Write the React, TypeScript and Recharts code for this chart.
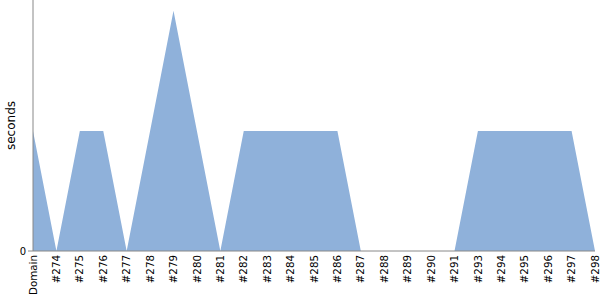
import { AreaChart, Area, XAxis, YAxis } from 'recharts'

const builds = ['Domain', '#274', '#275', '#276', '#277', '#278', '#279', '#280', '#281', '#282', '#283', '#284', '#285', '#286', '#287', '#288', '#289', '#290', '#291', '#293', '#294', '#295', '#296', '#297', '#298']
const seconds = [1, 0, 1, 1, 0, 1, 2, 1, 0, 1, 1, 1, 1, 1, 0, 0, 0, 0, 0, 1, 1, 1, 1, 1, 0]
const yTicks = [0]

const data = builds.map((b, i) => ({ build: b, s: seconds[i] }))

const font = 'DejaVu Sans, sans-serif'

function BuildTick({ x, y, payload }: any) {
  return (
    <text
      x={x}
      y={y}
      transform={`rotate(-90, ${x}, ${y})`}
      textAnchor="end"
      dy="0.35em"
      fontSize={10.3}
      fontFamily={font}
      fill="#000"
    >
      {payload.value}
    </text>
  )
}

export default function App() {
  return (
    <div style={{ position: 'absolute', left: 0, top: 0, width: 600, height: 300 }}>
      <AreaChart width={600} height={300} data={data} margin={{ top: 0, right: 5, left: 0, bottom: 0 }}>
        <XAxis
          dataKey="build"
          interval={0}
          height={49}
          stroke="#888"
          tickLine={false}
          tickSize={0}
          tickMargin={4}
          tick={<BuildTick />}
        />
        <YAxis
          width={33}
          domain={[0, 2.09]}
          ticks={yTicks}
          stroke="#888"
          tickSize={5}
          tick={{ fill: '#000', fontSize: 10, fontFamily: font }}
          label={{ value: 'seconds', angle: -90, position: 'insideLeft', offset: 11, fill: '#000', fontSize: 12, fontFamily: font, style: { textAnchor: 'middle' } }}
        />
        <Area
          type="linear"
          dataKey="s"
          stroke="none"
          fill="#8fb1da"
          fillOpacity={1}
          isAnimationActive={false}
        />
      </AreaChart>
    </div>
  )
}
